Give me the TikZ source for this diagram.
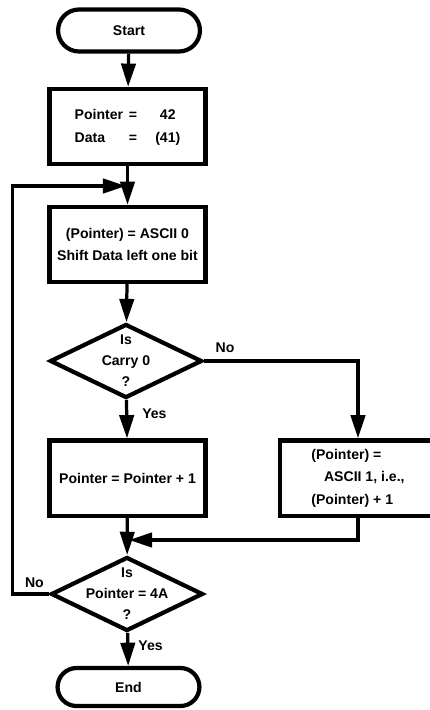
\documentclass[tikz,border=0pt]{standalone}
\usepackage{fontspec}
\setmainfont{Liberation Sans}
\usetikzlibrary{shapes.geometric, shapes.misc, arrows.meta, positioning}

\begin{document}
\begin{tikzpicture}[
        x=0.025cm, y=-0.025cm, % one unit is one pixel of the sketch
        font=\fontsize{10}{16}\selectfont\bfseries,
        >={Triangle[length=0.58cm, width=0.36cm]},
        % Define the styles for the flowchart parts
        terminal/.style={
            rounded rectangle, draw, line width=3pt,
            minimum width=3.78cm, minimum height=1.05cm
        },
        procbox/.style={
            rectangle, draw, line width=3pt,
            minimum width=3.9cm, minimum height=1.88cm,
            align=center
        },
        decision/.style={
            diamond, draw, line width=3pt, inner sep=0pt,
            minimum width=3.8cm, minimum height=1.85cm
        },
        dtext/.style={align=center, font=\fontsize{10}{15}\selectfont\bfseries},
        flow/.style={->, line width=2.3pt},
        lbl/.style={inner sep=0pt}
    ]

    \useasboundingbox (0,0) rectangle (429,710);

    % ==========================
    % MAIN COLUMN
    % ==========================
    \node[terminal] (start) at (129, 30.5) {Start};
    \node[procbox] (init) at (127.5, 126.5) {%
        \begin{tabular}{@{}l@{\hspace{4pt}}c@{\hspace{13pt}}c@{}}
            Pointer & = & 42 \\
            Data    & = & (41)
        \end{tabular}};
    \node[procbox] (shift) at (127.5, 244.5) {(Pointer) = ASCII 0\\Shift Data left one bit};
    \node[decision] (carry) at (126, 361) {};
    \node[dtext] (carrytxt) at (carry) {Is\\Carry 0\\?};
    \node[procbox] (inc) at (127.5, 478) {Pointer = Pointer + 1};
    \node[decision] (count) at (127, 594) {};
    \node[dtext] (counttxt) at (count) {Is\\Pointer = 4A\\?};
    \node[terminal, minimum height=0.95cm] (end) at (128.5, 687) {End};

    % ==========================
    % SIDE BRANCH
    % ==========================
    \node[procbox, align=left] (setone) at (358, 478)
        {(Pointer) =\\\hspace{9pt}ASCII 1, i.e.,\\(Pointer) + 1};

    \coordinate (looppt) at (126, 186);
    \coordinate (mergept) at (129, 540);

    % branch labels
    \node[lbl, above right=0.2cm and 0.28cm of carry.east] (nocarry) {No};
    \node[lbl, below right=0.2cm and 0.4cm of carry.south] (yescarry) {Yes};
    \node[lbl, above left=0.15cm and 0.12cm of count.west] (nocount) {No};
    \node[lbl, below right=0.18cm and 0.28cm of count.south] (yescount) {Yes};

    % ==========================
    % CONNECTIONS
    % ==========================
    \draw[flow] (start) -- (init);
    \draw[flow] (init) -- (shift);
    \draw[flow] (shift) -- (carry);
    \draw[flow] (carry) -- (inc);
    \draw[flow] (carry.east) -| (setone.north);
    \draw[flow] (inc) -- (count);
    \draw[flow] (setone.south) |- (mergept);
    \draw[flow] (count) -- (end);

    % loop back from the count test
    \draw[flow] (count.west) -- ++(-36, 0) |- (looppt);

\end{tikzpicture}
\end{document}
